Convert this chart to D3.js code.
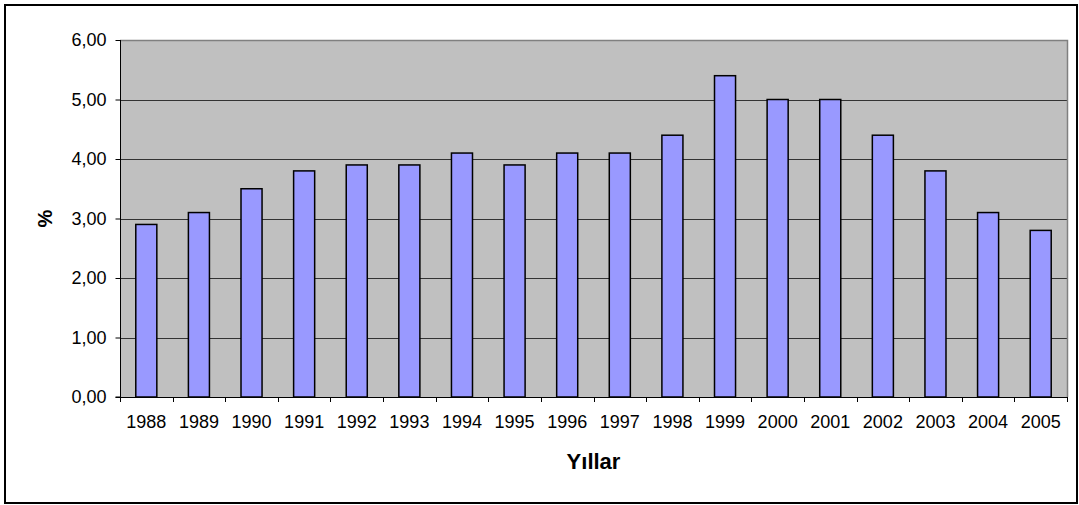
<!DOCTYPE html>
<html><head><meta charset="utf-8">
<script src="https://cdn.jsdelivr.net/npm/d3@7"></script>
<style>body{margin:0;background:#fff;} svg{display:block;font-family:"Liberation Sans",Arial,sans-serif;}</style>
</head><body>
<svg id="c" width="1079" height="505"></svg>
<script>
const years = ["1988","1989","1990","1991","1992","1993","1994","1995","1996","1997","1998","1999","2000","2001","2002","2003","2004","2005"];
const values = [2.9,3.1,3.5,3.8,3.9,3.9,4.1,3.9,4.1,4.1,4.4,5.4,5.0,5.0,4.4,3.8,3.1,2.8];
const yTicks = [0,1,2,3,4,5,6];
const xTitle = "Yıllar";
const yTitle = "%";

const svg = d3.select("#c");
const L = 120, R = 1067, T = 40, B = 397;

svg.append("rect").attr("x",5).attr("y",5).attr("width",1072).attr("height",498)
  .attr("fill","#fff").attr("stroke","#000").attr("stroke-width",2);

const xb = d3.scaleBand().domain(years).range([L,R]);
const y = d3.scaleLinear().domain([0,6]).range([B,T]);

svg.append("rect").attr("x",L).attr("y",T).attr("width",R-L).attr("height",B-T).attr("fill","#c0c0c0");

// grid
svg.append("g").selectAll("line").data(yTicks.slice(1,-1)).join("line")
  .attr("x1",L).attr("x2",R).attr("y1",d=>Math.round(y(d))+0.5).attr("y2",d=>Math.round(y(d))+0.5)
  .attr("stroke","#333").attr("stroke-width",1);
// plot border top/right gray
svg.append("path").attr("d",`M${L},${T+0.5}H${R+0.5}V${B}`).attr("fill","none").attr("stroke","#808080").attr("stroke-width",1.5);

// bars
svg.append("g").selectAll("rect").data(values).join("rect")
  .attr("x",(d,i)=>xb(years[i]) + xb.bandwidth()*0.3)
  .attr("width",xb.bandwidth()*0.4)
  .attr("y",d=>y(d)).attr("height",d=>B-y(d))
  .attr("fill","#9999ff").attr("stroke","#000").attr("stroke-width",1.5);

// y axis
const ya = d3.axisLeft(y).tickValues(yTicks).tickSize(5).tickPadding(9)
  .tickFormat(d=>d3.format(".2f")(d).replace(".",","));
const gy = svg.append("g").attr("transform",`translate(${L+0.5},0)`).call(ya);
gy.attr("font-size",null).attr("font-family",null);
gy.select(".domain").attr("d",`M-5,${B}H0V${T}`).attr("stroke","#000");
gy.selectAll("text").style("font-size","18px").attr("fill","#000");

// x axis
const xa = d3.axisBottom(xb).tickSize(0).tickPadding(18);
const gx = svg.append("g").attr("transform",`translate(0,${B+0.5})`).call(xa);
gx.attr("font-size",null).attr("font-family",null);
gx.select(".domain").attr("stroke","#000").attr("d",`M${L},0H${R}`);
gx.selectAll("text").style("font-size","18px").attr("fill","#000");
// category boundary ticks
svg.append("g").selectAll("line").data(d3.range(years.length+1)).join("line")
  .attr("x1",i=>Math.round(L + i*xb.step())+0.5).attr("x2",i=>Math.round(L + i*xb.step())+0.5)
  .attr("y1",B).attr("y2",B+5).attr("stroke","#000");

svg.append("text").attr("x",(L+R)/2).attr("y",469).attr("text-anchor","middle")
  .style("font-size","22px").attr("font-weight","bold").text(xTitle);
svg.append("text").attr("transform",`translate(52,${(T+B)/2}) rotate(-90)`).attr("text-anchor","middle")
  .style("font-size","20px").attr("font-weight","bold").text(yTitle);
</script>
</body></html>
